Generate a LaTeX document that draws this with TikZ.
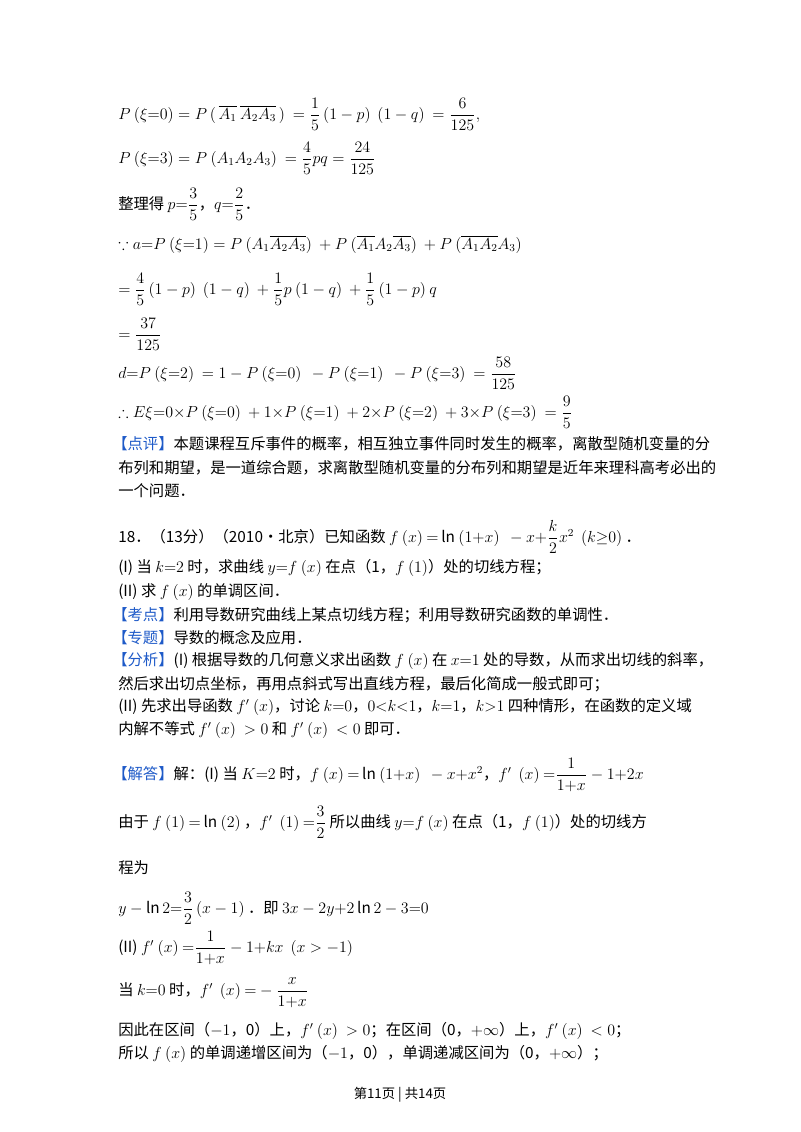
\documentclass[tikz,border=0pt]{standalone}
\usepackage{amsmath,amssymb}
\usepackage{fontspec}
\setmainfont{Noto Sans CJK SC}
\definecolor{tagblue}{RGB}{30,90,200}
\newcommand{\tg}[1]{\textcolor{tagblue}{【#1】}}
\newcommand{\ol}[1]{\overline{#1}}
\begin{document}
\begin{tikzpicture}[x=0.75pt,y=-0.75pt,
  txt/.style={anchor=west,inner sep=0pt,font=\fontsize{11.5}{14}\selectfont},
  foot/.style={anchor=center,inner sep=0pt,font=\fontsize{10}{12}\selectfont}]
\useasboundingbox (0,0) rectangle (800,1132);
\node[txt] (l1) at (118,114) {$P\ (\xi{=}0)=P\,(\,\ol{A_1}\ \ol{A_2A_3}\,)\ =\dfrac{1}{5}\,(1-p)\ \ (1-q)\ =\dfrac{6}{125},$};
\node[txt] (l2) at (118,158) {$P\ (\xi{=}3)=P\ (A_1A_2A_3)\ =\dfrac{4}{5}pq=\dfrac{24}{125}$};
\node[txt] (l3) at (118,204) {整理得 $p{=}\dfrac{3}{5}$，$q{=}\dfrac{2}{5}$．};
\node[txt] (l4) at (118,244) {$\because a{=}P\ (\xi{=}1)=P\ (A_1\ol{A_2A_3})\ +P\ (\ol{A_1}A_2\ol{A_3})\ +P\ (\ol{A_1A_2}A_3)$};
\node[txt] (l5) at (118,289) {$=\dfrac{4}{5}\,(1-p)\ \ (1-q)\ +\dfrac{1}{5}p\ (1-q)\ +\dfrac{1}{5}\,(1-p)\ q$};
\node[txt] (l6) at (118,334) {$=\dfrac{37}{125}$};
\node[txt] (l7) at (118,373) {$d{=}P\ (\xi{=}2)\ =1-P\ (\xi{=}0)\ \ -P\ (\xi{=}1)\ \ -P\ (\xi{=}3)\ =\dfrac{58}{125}$};
\node[txt] (l8) at (118,412) {$\therefore E\xi{=}0{\times}P\ (\xi{=}0)\ +1{\times}P\ (\xi{=}1)\ +2{\times}P\ (\xi{=}2)\ +3{\times}P\ (\xi{=}3)\ =\dfrac{9}{5}$};
\node[txt] (l9) at (112,444) {\tg{点评}本题课程互斥事件的概率，相互独立事件同时发生的概率，离散型随机变量的分};
\node[txt] (l10) at (118,468) {布列和期望，是一道综合题，求离散型随机变量的分布列和期望是近年来理科高考必出的};
\node[txt] (l11) at (118,491) {一个问题．};
\node[txt] (l12) at (118,537) {18．（13分）（2010•北京）已知函数 $f\ (x)\ {=}\ln\ (1{+}x)\ \ -x{+}\dfrac{k}{2}x^2\ \ (k{\ge}0)$ ．};
\node[txt] (l13) at (118,568) {(I) 当 $k{=}2$ 时，求曲线 $y{=}f\ (x)$ 在点（1，$f\ (1)$）处的切线方程；};
\node[txt] (l14) at (118,592) {(II) 求 $f\ (x)$ 的单调区间．};
\node[txt] (l15) at (112,615) {\tg{考点}利用导数研究曲线上某点切线方程；利用导数研究函数的单调性．};
\node[txt] (l16) at (112,638) {\tg{专题}导数的概念及应用．};
\node[txt] (l17) at (112,661) {\tg{分析}(I) 根据导数的几何意义求出函数 $f\ (x)$ 在 $x{=}1$ 处的导数，从而求出切线的斜率，};
\node[txt] (l18) at (118,684) {然后求出切点坐标，再用点斜式写出直线方程，最后化简成一般式即可；};
\node[txt] (l19) at (118,707) {(II) 先求出导函数 $f'\ (x)$，讨论 $k{=}0$，$0{<}k{<}1$，$k{=}1$，$k{>}1$ 四种情形，在函数的定义域};
\node[txt] (l20) at (118,730) {内解不等式 $f'\ (x)\ >0$ 和 $f'\ (x)\ <0$ 即可．};
\node[txt] (l21) at (112,775) {\tg{解答}解：(I) 当 $K{=}2$ 时，$f\ (x)\ {=}\ln\ (1{+}x)\ \ -x{+}x^2$，$f'\ \ (x)\ {=}\dfrac{1}{1{+}x}-1{+}2x$};
\node[txt] (l22) at (118,822) {由于 $f\ (1)\ {=}\ln\ (2)$ ，$f'\ \ (1)\ {=}\dfrac{3}{2}$ 所以曲线 $y{=}f\ (x)$ 在点（1，$f\ (1)$）处的切线方};
\node[txt] (l23) at (118,868) {程为};
\node[txt] (l24) at (118,908) {$y-\ln 2{=}\dfrac{3}{2}\,(x-1)$ ．即 $3x-2y{+}2\ln 2-3{=}0$};
\node[txt] (l25) at (118,948) {(II) $f'\ (x)\ {=}\dfrac{1}{1{+}x}-1{+}kx\ \ (x>-1)$};
\node[txt] (l26) at (118,993) {当 $k{=}0$ 时，$f'\ \ (x)\ {=}-\dfrac{x}{1{+}x}$};
\node[txt] (l27) at (118,1031) {因此在区间（$-1$，0）上，$f'\ (x)\ >0$；在区间（0，$+\infty$）上，$f'\ (x)\ <0$；};
\node[txt] (l28) at (118,1054) {所以 $f\ (x)$ 的单调递增区间为（$-1$，0），单调递减区间为（0，$+\infty$）；};
\node[foot] (ft) at (400,1095) {第11页 | 共14页};
\end{tikzpicture}
\end{document}
